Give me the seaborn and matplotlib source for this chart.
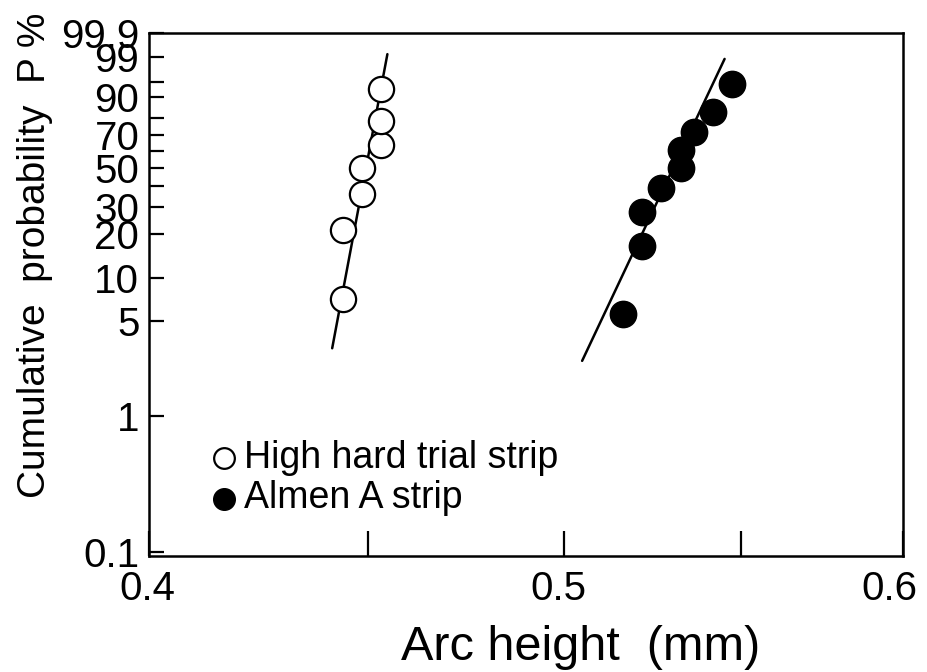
import numpy as np
import matplotlib
matplotlib.use("Agg")
import matplotlib.pyplot as plt
import matplotlib.transforms as mtransforms
from matplotlib.ticker import FixedLocator, FixedFormatter, NullLocator
import seaborn as sns

# ---- data ----
high_hard_x = [0.4440, 0.4440, 0.4485, 0.4485, 0.4531, 0.4531, 0.4531]
high_hard_p = [7.1, 21.4, 35.7, 50.0, 64.3, 78.6, 92.9]
almen_x = [0.5160, 0.5215, 0.5215, 0.5268, 0.5326, 0.5326, 0.5363, 0.5418, 0.5473]
almen_p = [5.6, 16.7, 27.8, 38.9, 50.0, 61.1, 72.2, 83.3, 94.4]

high_fit_x = [0.4414, 0.4547]
high_fit_p = [3.15, 99.19]
almen_fit_x = [0.5049, 0.5451]
almen_fit_p = [2.55, 98.82]

y_ticks = [0.1, 1, 5, 10, 20, 30, 40, 50, 60, 70, 80, 90, 95, 99, 99.9]
y_labels = ["0.1", "1", "5", "10", "20", "30", "", "50", "", "70", "", "90", "", "99", "99.9"]
x_ticks = [0.4, 0.45, 0.5, 0.55, 0.6]
x_labels = ["0.4", "", "0.5", "", "0.6"]

sns.set_style("ticks")
plt.rcParams["font.family"] = ["Liberation Sans", "DejaVu Sans"]
for k in ["text.color", "axes.labelcolor", "xtick.color", "ytick.color", "axes.edgecolor"]:
    plt.rcParams[k] = "black"


def weib_fwd(p):
    p = np.clip(np.asarray(p, dtype=float), 1e-6, 99.99999)
    return np.log(-np.log(1.0 - p / 100.0))


def weib_inv(t):
    return 100.0 * (1.0 - np.exp(-np.exp(np.asarray(t, dtype=float))))


fig = plt.figure(figsize=(9.28, 6.72), dpi=100)
ax = fig.add_axes([0.1606, 0.1726, 0.8125, 0.7783])
ax.set_xscale("log")
ax.set_yscale("function", functions=(weib_fwd, weib_inv))

lw = 1.8
sns.lineplot(x=high_fit_x, y=high_fit_p, sort=False, color="black", lw=lw, ax=ax, zorder=2)
sns.lineplot(x=almen_fit_x, y=almen_fit_p, sort=False, color="black", lw=lw, ax=ax, zorder=2)

sns.scatterplot(x=high_hard_x, y=high_hard_p, marker="o", s=330, facecolor="white",
                edgecolor="black", linewidth=1.6, ax=ax, zorder=3, label="High hard trial strip")
sns.scatterplot(x=almen_x, y=almen_p, marker="o", s=360, facecolor="black",
                edgecolor="black", linewidth=1.0, ax=ax, zorder=3, label="Almen A strip")

ax.set_xlim(0.4, 0.6)
ax.set_ylim(0.0927, 99.9)

ax.xaxis.set_major_locator(FixedLocator(x_ticks))
ax.xaxis.set_major_formatter(FixedFormatter(x_labels))
ax.xaxis.set_minor_locator(NullLocator())
ax.yaxis.set_major_locator(FixedLocator(y_ticks))
ax.yaxis.set_major_formatter(FixedFormatter(y_labels))
ax.yaxis.set_minor_locator(NullLocator())

ax.tick_params(axis="x", direction="in", length=18, width=1.6, labelsize=29, pad=10,
               top=False, bottom=True, colors="black")
ax.tick_params(axis="y", direction="in", length=11, width=1.6, labelsize=29, pad=7,
               left=True, right=False, colors="black")
for sp in ax.spines.values():
    sp.set_visible(True)
    sp.set_linewidth(1.8)
    sp.set_color("black")

# small horizontal offsets of x tick labels as in the reference
fig.canvas.draw()
offsets = {"0.4": -2, "0.5": -6, "0.6": -14}
for lab in ax.get_xticklabels():
    dx = offsets.get(lab.get_text(), 0)
    if dx:
        lab.set_transform(lab.get_transform() +
                          mtransforms.ScaledTranslation(dx / 100.0, 0, fig.dpi_scale_trans))

ax.set_xlabel("Arc height  (mm)", fontsize=35)
ax.xaxis.set_label_coords(0.573, -0.131)
ax.set_ylabel("Cumulative  probability  P %", fontsize=28)
ax.yaxis.set_label_coords(-0.128, 0.575)

leg = ax.legend(loc="upper left", bbox_to_anchor=(0.074, 0.222), frameon=False,
                fontsize=27, markerscale=0.82, handletextpad=0.05, handlelength=1.0,
                labelspacing=0.12, borderaxespad=0.0, borderpad=0.0)
for t in leg.get_texts():
    t.set_color("black")

fig.savefig("out.png", dpi=100, facecolor="white")
